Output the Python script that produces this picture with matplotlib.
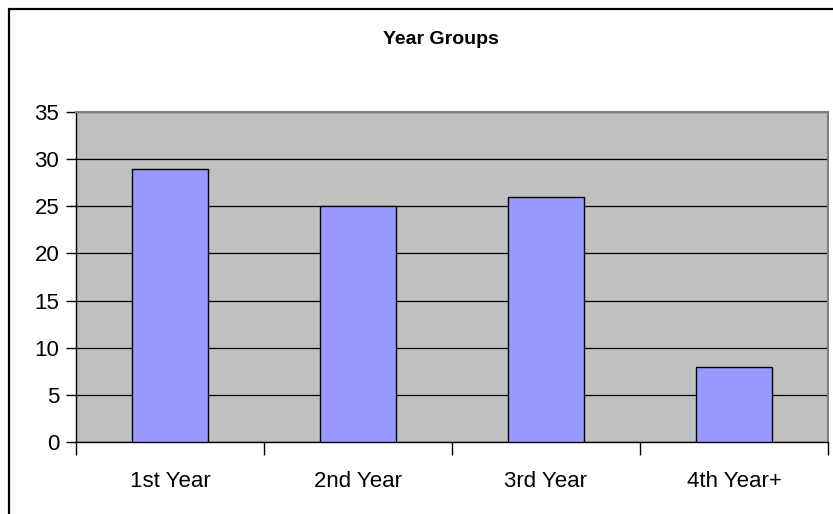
import matplotlib
matplotlib.use("Agg")
import matplotlib.pyplot as plt
from matplotlib.patches import Rectangle
import numpy as np

categories = ["1st Year", "2nd Year", "3rd Year", "4th Year+"]
values = [29, 25, 26, 8]
yticks = [0, 5, 10, 15, 20, 25, 30, 35]

plt.rcParams['font.family'] = ['Liberation Sans', 'DejaVu Sans']

W, H = 833, 514
fig = plt.figure(figsize=(W / 100, H / 100), dpi=100)
fig.patch.set_facecolor('white')

# outer chart frame (cut off on right/bottom)
fig.patches.append(Rectangle((8.5 / W, -0.05), 1.2, 1 - 8.5 / H + 0.05,
                             transform=fig.transFigure, fill=False,
                             edgecolor='black', linewidth=1.6))

L, R, T, B = 76, 828, 112, 442
ax = fig.add_axes([L / W, 1 - B / H, (R - L) / W, (B - T) / H])
ax.set_facecolor('#C0C0C0')

x = np.arange(len(categories))
ax.set_axisbelow(True)
ax.yaxis.grid(True, color='black', linewidth=0.9)
ax.bar(x, values, width=0.4, color='#9999FF', edgecolor='black', linewidth=1.0, zorder=3)

ax.set_xlim(-0.5, len(categories) - 0.5)
ax.set_ylim(0, 35)
ax.set_yticks(yticks)
ax.set_yticklabels([str(v) for v in yticks], fontsize=16)
ax.set_xticks(x)
ax.set_xticklabels(categories, fontsize=16)
ax.tick_params(axis='x', length=0, pad=21)
ax.set_xticks(np.arange(-0.5, len(categories)), minor=True)
ax.tick_params(axis='x', which='minor', length=9, width=1, color='black')
ax.tick_params(axis='y', length=7, width=1, color='black', pad=5)

for s in ['top', 'right']:
    ax.spines[s].set_color('#808080')
    ax.spines[s].set_linewidth(1.5)
for s in ['left', 'bottom']:
    ax.spines[s].set_color('black')
    ax.spines[s].set_linewidth(1.0)

fig.text(441 / W, 1 - 40 / H, "Year Groups", ha='center', va='center',
         fontsize=14, fontweight='bold')

fig.savefig("out.png", dpi=100)
